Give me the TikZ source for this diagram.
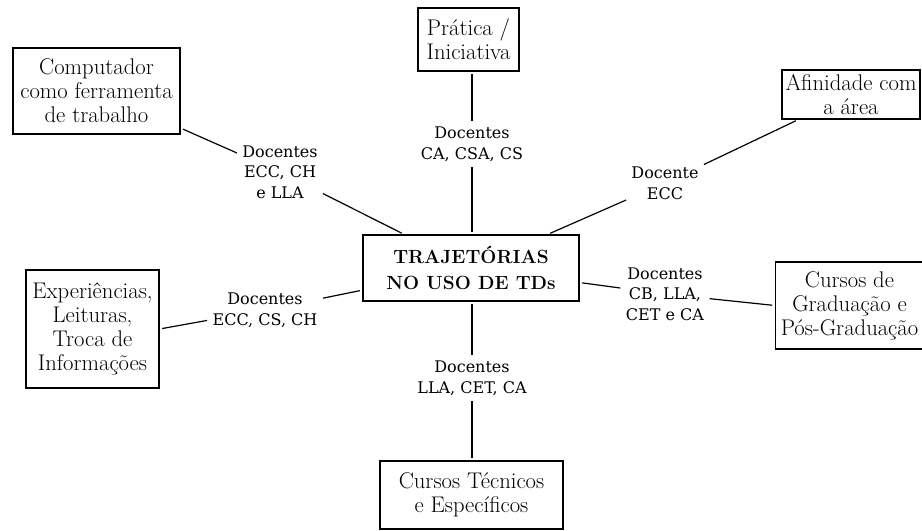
\documentclass[tikz,border=0pt]{standalone}
\usepackage{fontspec}
\newfontfamily\rotulofont{DejaVu Serif}

\begin{document}
\begin{tikzpicture}[x=0.75pt,y=0.75pt,yscale=-1,xscale=1,
  caixa/.style={draw, line width=0.9pt, align=center, inner sep=1pt, font=\fontsize{17}{18}\selectfont},
  centro/.style={caixa, font=\fontsize{14.3}{19.5}\selectfont\bfseries},
  rotulo/.style={align=center, inner sep=2pt, font=\rotulofont\fontsize{12}{15.5}\selectfont},
  ligacao/.style={line width=0.9pt, shorten <=2pt, shorten >=2pt}]
\useasboundingbox (0,0) rectangle (922,531);

%Shape: Rectangle [id:centro] 
\node [centro, minimum width=162pt, minimum height=49.5pt] (centro) at (471,268) {TRAJETÓRIAS\\NO USO DE TDs};
%Shape: Rectangle [id:comp] 
\node [caixa, minimum width=125.25pt, minimum height=64.5pt] (comp) at (96.5,91) {Computador\\como ferramenta\\de trabalho};
%Shape: Rectangle [id:prat] 
\node [caixa, minimum width=75.75pt, minimum height=47.25pt] (prat) at (468.5,39.5) {Prática /\\Iniciativa};
%Shape: Rectangle [id:afin] 
\node [caixa, minimum width=103.5pt, minimum height=36.75pt] (afin) at (851,94.5) {Afinidade com\\a área};
%Shape: Rectangle [id:exp] 
\node [caixa, minimum width=99.75pt, minimum height=88.5pt] (exp) at (92.5,329) {Experiências,\\Leituras,\\Troca de\\Informações};
%Shape: Rectangle [id:grad] 
\node [caixa, minimum width=111pt, minimum height=65.25pt] (grad) at (849.5,305.5) {Cursos de\\Graduação e\\Pós-Graduação};
%Shape: Rectangle [id:tec] 
\node [caixa, minimum width=137.25pt, minimum height=51pt] (tec) at (471.5,495) {Cursos Técnicos\\e Específicos};

% Text Node
\node [rotulo] (lcomp) at (280,172) {Docentes\\ECC, CH\\e LLA};
% Text Node
\node [rotulo] (lprat) at (472,144) {Docentes\\CA, CSA, CS};
% Text Node
\node [rotulo] (lafin) at (665,183) {Docente\\ECC};
% Text Node
\node [rotulo] (lexp) at (265,310) {Docentes\\ECC, CS, CH};
% Text Node
\node [rotulo] (lgrad) at (665,294) {Docentes\\CB, LLA,\\CET e CA};
% Text Node
\node [rotulo] (ltec) at (472,378) {Docentes\\LLA, CET, CA};

%Straight Lines
\draw [ligacao] (comp) -- (lcomp);
\draw [ligacao] (lcomp) -- (centro);
%Straight Lines
\draw [ligacao] (lprat |- prat.south) -- (lprat);
\draw [ligacao] (lprat) -- (lprat |- centro.north);
%Straight Lines
\draw [ligacao] (afin) -- (lafin);
\draw [ligacao] (lafin) -- (centro);
%Straight Lines
\draw [ligacao] (exp.east) -- (lexp);
\draw [ligacao] (lexp) -- (centro);
%Straight Lines
\draw [ligacao] (centro) -- (lgrad);
\draw [ligacao] (lgrad) -- (grad.west);
%Straight Lines
\draw [ligacao] (ltec |- centro.south) -- (ltec);
\draw [ligacao] (ltec) -- (ltec |- tec.north);

\end{tikzpicture}
\end{document}
